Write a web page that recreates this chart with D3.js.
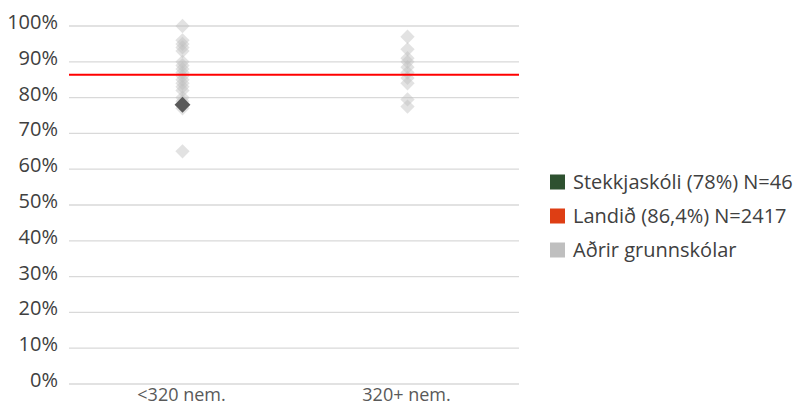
<!DOCTYPE html>
<html>
<head>
<meta charset="utf-8">
<script src="https://cdn.jsdelivr.net/npm/d3@7"></script>
<style>
  body { margin: 0; background: #fff; }
  text { font-family: "Open Sans", sans-serif; }
</style>
</head>
<body>
<div id="chart"></div>
<script>
var categories = ["<320 nem.", "320+ nem."];
var otherSmall = [100, 96, 95, 94, 93, 90, 89, 88, 87, 86, 85, 84, 83, 82, 80, 79, 77, 65];
var otherLarge = [97, 93.5, 91, 90, 88.5, 87, 85.5, 84, 79.5, 77.5];
var schoolValue = 78;
var schoolCategory = "<320 nem.";
var nationalValue = 86.4;
var yTicks = [0, 10, 20, 30, 40, 50, 60, 70, 80, 90, 100];
var legendLabels = ["Stekkjaskóli (78%) N=46", "Landið (86,4%) N=2417", "Aðrir grunnskólar"];
var legendColours = ["#2e5130", "#de3e14", "#bfbfbf"];

var width = 798, height = 406;
var plotLeft = 69, plotRight = 519, plotTop = 26, plotBottom = 384;

var svg = d3.select("#chart").append("svg")
  .attr("width", width)
  .attr("height", height);

var x = d3.scaleBand().domain(categories).range([plotLeft, plotRight]);
var y = d3.scaleLinear().domain([0, 100]).range([plotBottom, plotTop]);

// gridlines
svg.append("g").selectAll("line")
  .data(yTicks)
  .enter().append("line")
  .attr("x1", plotLeft).attr("x2", plotRight)
  .attr("y1", function(d) { return y(d); })
  .attr("y2", function(d) { return y(d); })
  .attr("stroke", "#d9d9d9")
  .attr("stroke-width", 1.3);

// y labels
svg.append("g").selectAll("text")
  .data(yTicks)
  .enter().append("text")
  .attr("x", 58)
  .attr("y", function(d) { return y(d); })
  .attr("dy", "0.15em")
  .attr("text-anchor", "end")
  .attr("font-size", 20)
  .attr("fill", "#404040")
  .text(function(d) { return d + "%"; });

// x labels
svg.append("g").selectAll("text")
  .data(categories)
  .enter().append("text")
  .attr("x", function(d) { return x(d) + x.bandwidth() / 2; })
  .attr("y", 401)
  .attr("text-anchor", "middle")
  .attr("font-size", 18)
  .attr("fill", "#595959")
  .text(function(d) { return d; });

var diamond = d3.symbol().type(d3.symbolDiamond2).size(130);

var others = otherSmall.map(function(v) { return { c: categories[0], v: v }; })
  .concat(otherLarge.map(function(v) { return { c: categories[1], v: v }; }));

svg.append("g").selectAll("path")
  .data(others)
  .enter().append("path")
  .attr("d", diamond)
  .attr("transform", function(d) {
    return "translate(" + (x(d.c) + x.bandwidth() / 2 + 1) + "," + y(d.v) + ")";
  })
  .attr("fill", "#bfbfbf")
  .attr("fill-opacity", 0.45);

// national line
svg.append("line")
  .attr("x1", plotLeft).attr("x2", plotRight)
  .attr("y1", y(nationalValue)).attr("y2", y(nationalValue))
  .attr("stroke", "#ff0000")
  .attr("stroke-width", 2);

// school point
svg.append("path")
  .attr("d", d3.symbol().type(d3.symbolDiamond2).size(160))
  .attr("transform", "translate(" + (x(schoolCategory) + x.bandwidth() / 2 + 1) + "," + y(schoolValue) + ")")
  .attr("fill", "#595959");

// legend
var legend = svg.append("g").selectAll("g")
  .data(legendLabels)
  .enter().append("g")
  .attr("transform", function(d, i) { return "translate(550," + (182 + i * 34) + ")"; });

legend.append("rect")
  .attr("x", 0).attr("y", -7.5)
  .attr("width", 15).attr("height", 15)
  .attr("fill", function(d, i) { return legendColours[i]; });

legend.append("text")
  .attr("x", 23)
  .attr("dy", "0.35em")
  .attr("font-size", 20)
  .attr("fill", "#404040")
  .text(function(d) { return d; });
</script>
</body>
</html>
